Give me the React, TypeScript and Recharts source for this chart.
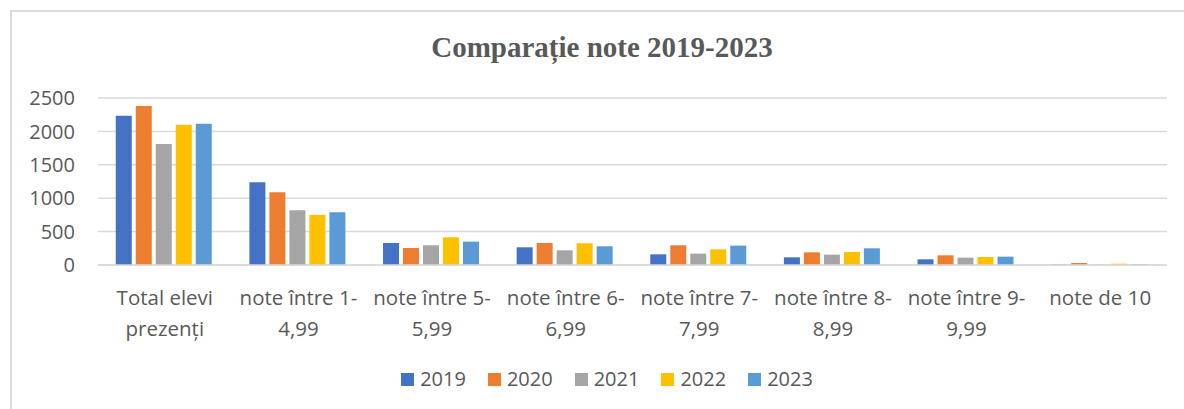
import React from "react";
import { BarChart, Bar, XAxis, YAxis, CartesianGrid, Legend } from "recharts";

const categories = [
  "Total elevi\nprezenți",
  "note între 1-\n4,99",
  "note între 5-\n5,99",
  "note între 6-\n6,99",
  "note între 7-\n7,99",
  "note între 8-\n8,99",
  "note între 9-\n9,99",
  "note de 10",
];

const years = ["2019", "2020", "2021", "2022", "2023"];
const values2019 = [2235, 1240, 330, 265, 160, 115, 85, 5];
const values2020 = [2380, 1090, 255, 330, 295, 190, 145, 30];
const values2021 = [1810, 820, 295, 220, 170, 155, 110, 5];
const values2022 = [2100, 750, 415, 325, 235, 195, 120, 20];
const values2023 = [2115, 790, 350, 280, 290, 250, 125, 8];
const yTicks = [0, 500, 1000, 1500, 2000, 2500];
const colors = ["#4472C4", "#ED7D31", "#A5A5A5", "#FFC000", "#5B9BD5"];
const title = "Comparație note 2019-2023";

const seriesValues = [values2019, values2020, values2021, values2022, values2023];
const data = categories.map((c, i) => {
  const row: Record<string, string | number> = { category: c };
  years.forEach((y, k) => {
    row[y] = seriesValues[k][i];
  });
  return row;
});

const FONT = "'Open Sans', 'Noto Sans', sans-serif";
const TEXT = "#595959";

const CategoryTick = (props: any) => {
  const { x, y, payload } = props;
  const lines = String(payload.value).split("\n");
  return (
    <g>
      {lines.map((l: string, i: number) => (
        <text
          key={i}
          x={x}
          y={y + 24 + i * 31}
          textAnchor="middle"
          dominantBaseline="central"
          fill={TEXT}
          fontFamily={FONT}
          fontSize={20.5}
        >
          {l}
        </text>
      ))}
    </g>
  );
};

const LegendContent = (props: any) => {
  const { payload } = props;
  return (
    <div style={{ display: "flex", justifyContent: "center", alignItems: "center" }}>
      {(payload || []).map((p: any, i: number) => (
        <div
          key={p.value}
          style={{
            display: "flex",
            alignItems: "center",
            marginRight: i === payload.length - 1 ? 0 : 22,
          }}
        >
          <div style={{ width: 13, height: 13, background: p.color, marginRight: 6 }} />
          <span style={{ fontFamily: FONT, fontSize: 20, color: TEXT, lineHeight: "22px" }}>
            {p.value}
          </span>
        </div>
      ))}
    </div>
  );
};

export default function App() {
  return (
    <div style={{ position: "absolute", left: 0, top: 0, width: 1184, height: 409, background: "#fff", overflow: "hidden" }}>
      <div
        style={{
          position: "absolute",
          left: 10,
          top: 10,
          width: 1174,
          height: 399,
          borderLeft: "2px solid #dcdcdc",
          borderTop: "2px solid #dcdcdc",
          boxSizing: "border-box",
        }}
      />
      <div
        style={{
          position: "absolute",
          left: 0,
          top: 33,
          width: 1204,
          textAlign: "center",
          fontFamily: "'Liberation Serif', 'Times New Roman', serif",
          fontWeight: "bold",
          fontSize: 29,
          lineHeight: "29px",
          color: TEXT,
        }}
      >
        {title}
      </div>
      <div style={{ position: "absolute", left: 0, top: 0 }}>
        <BarChart
          width={1184}
          height={409}
          data={data}
          margin={{ top: 98, right: 17, bottom: 84, left: 38 }}
          barCategoryGap="13.3%"
          barGap={4}
        >
          <CartesianGrid vertical={false} stroke="#d9d9d9" strokeWidth={1.5} />
          <XAxis
            dataKey="category"
            tickLine={false}
            axisLine={{ stroke: "#d9d9d9", strokeWidth: 1.5 }}
            height={60}
            interval={0}
            tick={<CategoryTick />}
          />
          <YAxis
            width={60}
            domain={[0, 2500]}
            ticks={yTicks}
            tickLine={false}
            axisLine={false}
            tickMargin={17}
            tick={{ fill: TEXT, fontFamily: FONT, fontSize: 20 }}
          />
          <Legend
            layout="horizontal"
            verticalAlign="middle"
            align="center"
            wrapperStyle={{ top: 368, left: 0, width: 1214 }}
            content={<LegendContent />}
          />
          {years.map((y, k) => (
            <Bar key={y} dataKey={y} fill={colors[k]} isAnimationActive={false} />
          ))}
        </BarChart>
      </div>
    </div>
  );
}
